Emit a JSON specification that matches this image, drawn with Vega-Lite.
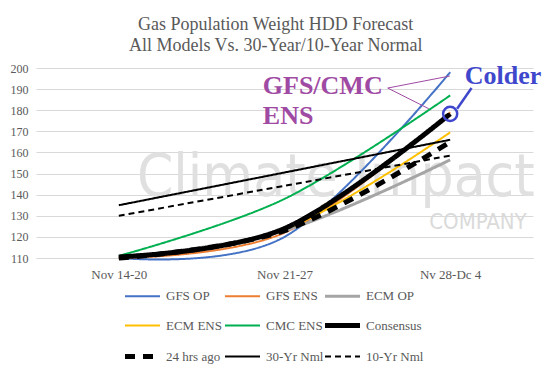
{
  "$schema": "https://vega.github.io/schema/vega-lite/v6.json",
  "width": 497,
  "height": 190,
  "padding": {"left": 10, "top": 16, "right": 0, "bottom": 0},
  "background": "white",
  "title": {
    "text": ["Gas Population Weight HDD Forecast", "All Models Vs. 30-Year/10-Year Normal"],
    "font": "Liberation Serif, Times New Roman, DejaVu Serif, serif",
    "fontSize": 18,
    "fontWeight": "normal",
    "color": "#595959",
    "lineHeight": 21,
    "anchor": "middle",
    "frame": "bounds",
    "offset": 7
  },
  "config": {
    "view": {"stroke": null},
    "font": "Liberation Serif, Times New Roman, DejaVu Serif, serif"
  },
  "encoding": {
    "x": {
      "field": "x",
      "type": "quantitative",
      "scale": {"domain": [-0.5, 2.5], "nice": false, "zero": false},
      "axis": {
        "title": null,
        "values": [0, 1, 2],
        "labelExpr": "datum.value == 0 ? 'Nov 14-20' : datum.value == 1 ? 'Nov 21-27' : 'Nv 28-Dc 4'",
        "grid": false,
        "ticks": false,
        "domain": true,
        "domainColor": "#d9d9d9",
        "labelFont": "Liberation Serif, Times New Roman, DejaVu Serif, serif",
        "labelFontSize": 13,
        "labelColor": "#595959",
        "labelPadding": 10
      }
    },
    "y": {
      "field": "y",
      "type": "quantitative",
      "scale": {"domain": [110, 200], "nice": false, "zero": false},
      "axis": {
        "title": null,
        "values": [110, 120, 130, 140, 150, 160, 170, 180, 190, 200],
        "grid": true,
        "gridColor": "#d9d9d9",
        "ticks": false,
        "domain": false,
        "labelFont": "Liberation Serif, Times New Roman, DejaVu Serif, serif",
        "labelFontSize": 12,
        "labelColor": "#595959",
        "labelPadding": 8
      }
    }
  },
  "layer": [
    {
      "data": {"values": [
        {"t": "Climate Impact", "x": 0.109, "y": 139.5, "k": "big"},
        {"t": "COMPANY", "x": 2.462, "y": 123.9, "k": "small"}
      ]},
      "transform": [{"filter": "datum.k == 'big'"}],
      "mark": {"type": "text", "font": "Liberation Sans Narrow, DejaVu Sans Condensed, Liberation Sans, sans-serif", "fontSize": 58, "color": "#e0e0e0", "align": "left", "baseline": "alphabetic"},
      "encoding": {"text": {"field": "t"}}
    },
    {
      "data": {"values": [
        {"t": "Climate Impact", "x": 0.109, "y": 139.5, "k": "big"},
        {"t": "COMPANY", "x": 2.462, "y": 123.9, "k": "small"}
      ]},
      "transform": [{"filter": "datum.k == 'small'"}],
      "mark": {"type": "text", "font": "Liberation Sans Narrow, DejaVu Sans Condensed, Liberation Sans, sans-serif", "fontSize": 22, "color": "#dadada", "align": "right", "baseline": "alphabetic"},
      "encoding": {"text": {"field": "t"}}
    },
    {
      "data": {"values": [
        {"s": "GFS OP", "x": 0, "y": 110},
        {"s": "GFS OP", "x": 1, "y": 120},
        {"s": "GFS OP", "x": 2, "y": 198},
        {"s": "GFS ENS", "x": 0, "y": 110},
        {"s": "GFS ENS", "x": 1, "y": 122},
        {"s": "GFS ENS", "x": 2, "y": 179},
        {"s": "ECM OP", "x": 0, "y": 110},
        {"s": "ECM OP", "x": 1, "y": 123},
        {"s": "ECM OP", "x": 2, "y": 156.5},
        {"s": "ECM ENS", "x": 0, "y": 110},
        {"s": "ECM ENS", "x": 1, "y": 123.5},
        {"s": "ECM ENS", "x": 2, "y": 169.5},
        {"s": "CMC ENS", "x": 0, "y": 111},
        {"s": "CMC ENS", "x": 1, "y": 138},
        {"s": "CMC ENS", "x": 2, "y": 187},
        {"s": "Consensus", "x": 0, "y": 110.5},
        {"s": "Consensus", "x": 1, "y": 124},
        {"s": "Consensus", "x": 2, "y": 178.3},
        {"s": "24 hrs ago", "x": 0, "y": 110},
        {"s": "24 hrs ago", "x": 1, "y": 123},
        {"s": "24 hrs ago", "x": 2, "y": 165},
        {"s": "30-Yr Nml", "x": 0, "y": 135},
        {"s": "30-Yr Nml", "x": 1, "y": 150.5},
        {"s": "30-Yr Nml", "x": 2, "y": 166},
        {"s": "10-Yr Nml", "x": 0, "y": 130},
        {"s": "10-Yr Nml", "x": 1, "y": 144.2},
        {"s": "10-Yr Nml", "x": 2, "y": 158.5}
      ]},
      "mark": {"type": "line", "interpolate": "cardinal"},
      "encoding": {
        "detail": {"field": "s"},
        "color": {
          "field": "s", "type": "nominal",
          "scale": {
            "domain": ["GFS OP", "GFS ENS", "ECM OP", "ECM ENS", "CMC ENS", "Consensus", "24 hrs ago", "30-Yr Nml", "10-Yr Nml"],
            "range": ["#4472C4", "#ED7D31", "#A5A5A5", "#FFC000", "#00B050", "#000000", "#000000", "#000000", "#000000"]
          },
          "legend": {
            "title": null,
            "orient": "none",
            "legendX": 100,
            "legendY": 220,
            "columns": 3,
            "direction": "horizontal",
            "gridAlign": "all",
            "columnPadding": -9,
            "rowPadding": 10,
            "symbolType": "M-5,0L5,0",
            "symbolSize": 49,
            "labelFont": "Liberation Serif, Times New Roman, DejaVu Serif, serif",
            "labelFontSize": 13,
            "labelColor": "#595959",
            "labelOffset": 17
          }
        },
        "strokeWidth": {
          "field": "s", "type": "nominal",
          "scale": {
            "type": "ordinal",
            "domain": ["GFS OP", "GFS ENS", "ECM OP", "ECM ENS", "CMC ENS", "Consensus", "24 hrs ago", "30-Yr Nml", "10-Yr Nml"],
            "range": [2, 2, 3, 2, 2, 5, 5, 2, 2]
          },
          "legend": {
            "title": null,
            "orient": "none",
            "legendX": 100,
            "legendY": 220,
            "columns": 3,
            "direction": "horizontal",
            "gridAlign": "all",
            "columnPadding": -9,
            "rowPadding": 10,
            "symbolType": "M-5,0L5,0",
            "symbolSize": 49,
            "labelFont": "Liberation Serif, Times New Roman, DejaVu Serif, serif",
            "labelFontSize": 13,
            "labelColor": "#595959",
            "labelOffset": 17
          }
        },
        "strokeDash": {
          "field": "s", "type": "nominal",
          "scale": {
            "type": "ordinal",
            "domain": ["GFS OP", "GFS ENS", "ECM OP", "ECM ENS", "CMC ENS", "Consensus", "24 hrs ago", "30-Yr Nml", "10-Yr Nml"],
            "range": [[1, 0], [1, 0], [1, 0], [1, 0], [1, 0], [1, 0], [10, 8], [1, 0], [6, 4]]
          },
          "legend": {
            "title": null,
            "orient": "none",
            "legendX": 100,
            "legendY": 220,
            "columns": 3,
            "direction": "horizontal",
            "gridAlign": "all",
            "columnPadding": -9,
            "rowPadding": 10,
            "symbolType": "M-5,0L5,0",
            "symbolSize": 49,
            "labelFont": "Liberation Serif, Times New Roman, DejaVu Serif, serif",
            "labelFontSize": 13,
            "labelColor": "#595959",
            "labelOffset": 17
          }
        }
      }
    },
    {
      "data": {"values": [
        {"x": 1.623, "y": 190.5, "x2": 1.998, "y2": 196.2, "c": "p"},
        {"x": 1.623, "y": 190.5, "x2": 1.871, "y2": 180.7, "c": "p"}
      ]},
      "mark": {"type": "rule", "color": "#9F4AA3", "strokeWidth": 1},
      "encoding": {"x2": {"field": "x2"}, "y2": {"field": "y2"}}
    },
    {
      "data": {"values": [
        {"x": 2.042, "y": 180.7, "x2": 2.129, "y2": 190.5}
      ]},
      "mark": {"type": "rule", "color": "#3F48CC", "strokeWidth": 2.5},
      "encoding": {"x2": {"field": "x2"}, "y2": {"field": "y2"}}
    },
    {
      "data": {"values": [{"x": 2, "y": 178.3}]},
      "mark": {"type": "point", "shape": "circle", "filled": false, "size": 200, "color": "#3F48CC", "strokeWidth": 2.5, "opacity": 1}
    },
    {
      "data": {"values": [
        {"t": "GFS/CMC", "x": 0.869, "y": 187.8},
        {"t": "ENS", "x": 0.869, "y": 173.6}
      ]},
      "mark": {"type": "text", "font": "Liberation Serif, Times New Roman, DejaVu Serif, serif", "fontWeight": "bold", "fontSize": 26, "color": "#9F4AA3", "align": "left", "baseline": "alphabetic"},
      "encoding": {"text": {"field": "t"}}
    },
    {
      "data": {"values": [{"t": "Colder", "x": 2.088, "y": 192.6}]},
      "mark": {"type": "text", "font": "Liberation Serif, Times New Roman, DejaVu Serif, serif", "fontWeight": "bold", "fontSize": 26, "color": "#3F48CC", "align": "left", "baseline": "alphabetic"},
      "encoding": {"text": {"field": "t"}}
    }
  ]
}
